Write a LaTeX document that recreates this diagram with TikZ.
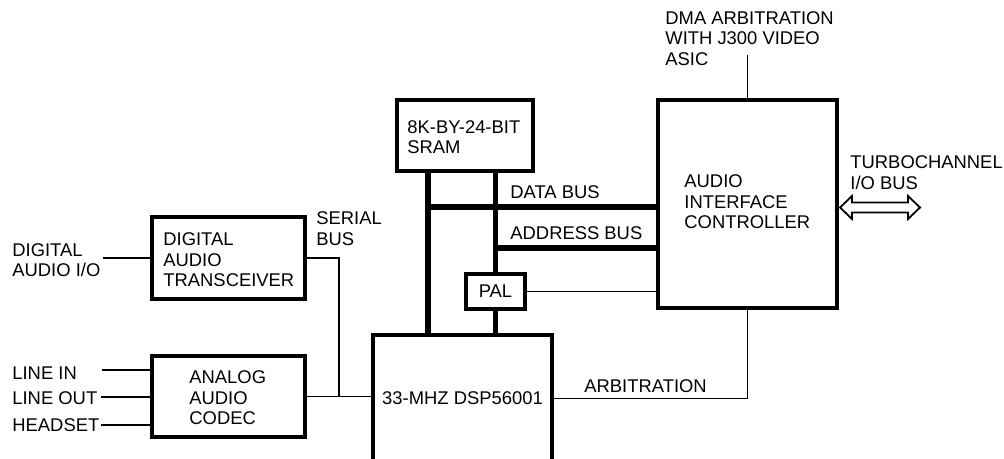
\documentclass[tikz,border=0pt]{standalone}
\usepackage{fontspec}
\setmainfont{Liberation Sans}
\usetikzlibrary{fit,calc}
\begin{document}
\begin{tikzpicture}[x=0.5pt,y=-0.5pt,
  box/.style={draw, line width=2pt, inner sep=0pt},
  bus/.style={line width=2.6pt},
  wire/.style={line width=0.9pt},
  lbl/.style={inner sep=0pt, anchor=west, align=left, font=\fontsize{9.2pt}{10.2pt}\selectfont},
  clbl/.style={inner sep=0pt, align=center, font=\fontsize{9.2pt}{10.2pt}\selectfont}]
\useasboundingbox (0,0) rectangle (1004,459);
% boxes
\node[box, fit={(152,217) (305,299)}] (dat) {};
\node[box, fit={(152,356) (305,437)}] (codec) {};
\node[box, fit={(373,335) (552,462)}] (dsp) {};
\node[box, fit={(397,100) (533,171)}] (sram) {};
\node[box, fit={(466,274) (525,309)}] (pal) {};
\node[box, fit={(658,100) (837,308)}] (aic) {};
% box texts
\node[lbl] (datt) at (163,260) {DIGITAL\\AUDIO\\TRANSCEIVER};
\node[lbl] (codect) at (189,398) {ANALOG\\AUDIO\\CODEC};
\node[clbl] (dspt) at (dsp.center) {33-MHZ DSP56001};
\node[lbl] (sramt) at (407,137) {8K-BY-24-BIT\\SRAM};
\node[clbl] (palt) at (pal.center) {PAL};
\node[lbl] (aict) at (684,202) {AUDIO\\INTERFACE\\CONTROLLER};
% labels
\node[lbl] (dmat) at (665,38.5) {DMA ARBITRATION\\WITH J300 VIDEO\\ASIC};
\node[lbl] (tct) at (850,172.5) {TURBOCHANNEL\\I/O BUS};
\node[lbl] (datab) at (510,192) {DATA BUS};
\node[lbl] (addrb) at (510,233) {ADDRESS BUS};
\node[lbl] (serb) at (316,228.5) {SERIAL\\BUS};
\node[lbl] (dio) at (12,260) {DIGITAL\\AUDIO I/O};
\node[lbl] (linein) at (12,373) {LINE IN};
\node[lbl] (lineout) at (12,398) {LINE OUT};
\node[lbl] (headset) at (12,425) {HEADSET};
\node[lbl] (arbt) at (584,386) {ARBITRATION};
% free ends
\coordinate (dioend) at (103,258);
\coordinate (liend) at (102,370);
\coordinate (loend) at (101,397);
\coordinate (hsend) at (101,425);
\coordinate (j) at (339,396.5);
\coordinate (busA) at (428,171);
\coordinate (busB) at (495.5,171);
\coordinate (dbus) at (428,207);
\coordinate (abus) at (495.5,248);
% thin wires
\draw[wire] (dioend) -- (dioend -| dat.west);
\draw[wire] (liend) -- (liend -| codec.west);
\draw[wire] (loend) -- (loend -| codec.west);
\draw[wire] (hsend) -- (hsend -| codec.west);
\draw[wire] (dat.east) -| (j);
\draw[wire] (codec.east) -- (codec.east -| dsp.west);
\draw[wire] (aic.north) -- ++(0,-43);
\draw[wire] (dsp.east) -| (aic.south);
\draw[wire] (pal.east) -- (pal.east -| aic.west);
% buses
\draw[bus] (busA) -- (busA |- dsp.north);
\draw[bus] (busB) -- (pal.north);
\draw[bus] (pal.south) -- (pal.south |- dsp.north);
\draw[bus] (dbus) -- (dbus -| aic.west);
\draw[bus] (abus) -- (abus -| aic.west);
% turbochannel double arrow
\coordinate (tcA) at (840,207.5);
\draw[wire, line join=miter] (tcA) -- ++(12,-11.5) -- ++(0,6.5) -- ++(56,0) -- ++(0,-6.5)
  -- ++(12,11.5) -- ++(-12,11.5) -- ++(0,-6.5) -- ++(-56,0) -- ++(0,6.5) -- cycle;
\end{tikzpicture}
\end{document}
